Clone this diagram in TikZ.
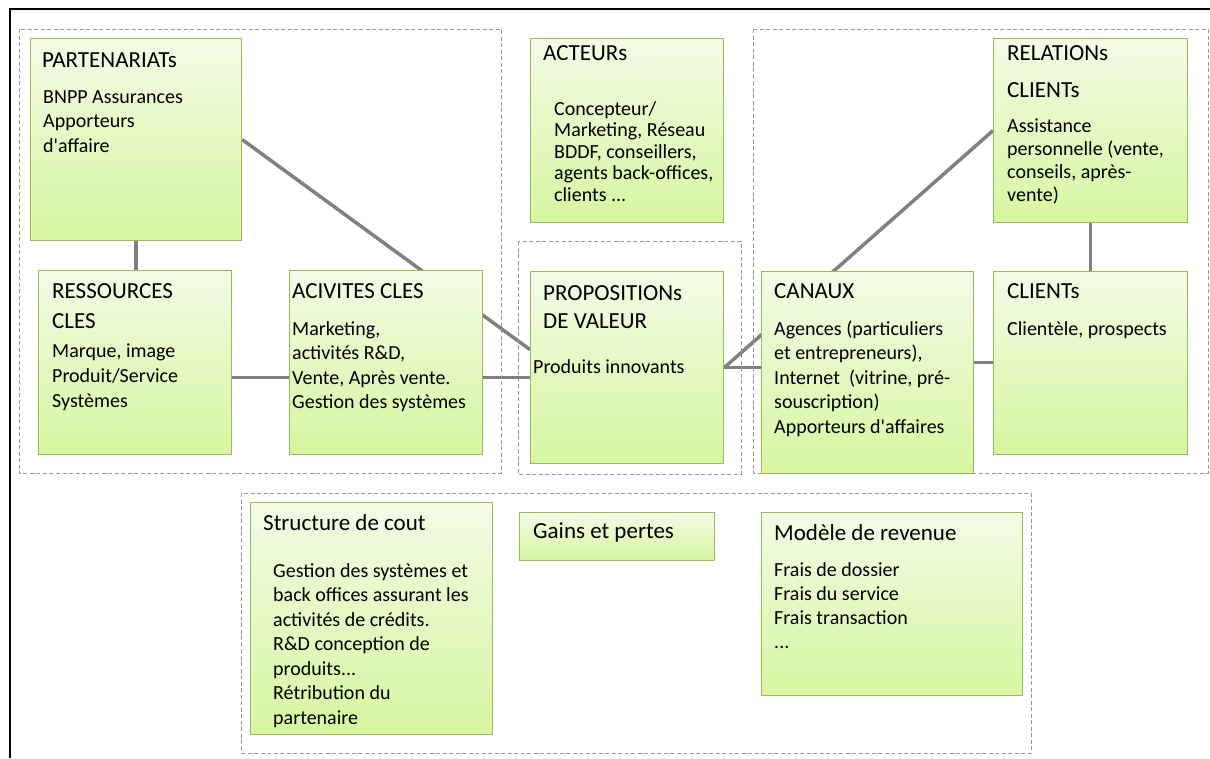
\documentclass[tikz,border=0pt]{standalone}
\usepackage{fontspec}
\setmainfont{Carlito}
\definecolor{cardline}{RGB}{155, 187, 89}
\definecolor{cardtop}{RGB}{243, 251, 230}
\definecolor{cardbot}{RGB}{214, 246, 160}
\definecolor{zonegray}{RGB}{150, 150, 150}
\definecolor{linkgray}{RGB}{128, 128, 128}
\usetikzlibrary{backgrounds, calc}
\newcommand\rows[1]{\begin{tabular}[t]{@{}l@{}}#1\end{tabular}}
\tikzset{
	card/.style={rectangle, draw=cardline, line width=1.2pt, top color=cardtop, bottom color=cardbot, anchor=north west, inner sep=0pt},
	head/.style={anchor=base west, inner sep=0pt, font=\fontsize{23}{30}\selectfont},
	body/.style={anchor=base west, inner sep=0pt, font=\fontsize{20}{24.5}\selectfont},
	zone/.style={draw=zonegray, line width=1pt, dash pattern=on 4pt off 2.5pt},
	link/.style={draw=linkgray, line width=3.5pt},
}

\begin{document}
\begin{tikzpicture}[x=1pt, y=-1pt]
		\useasboundingbox (0,0) rectangle (1210,758);
		\draw[line width=1.5pt] (10,758) -- (10,9) -- (1210,9);
		\draw[zone] (19,29) rectangle (501,473);
		\draw[zone] (518,241) rectangle (741,474);
		\draw[zone] (753,29) rectangle (1208,473);
		\draw[zone] (241,493) rectangle (1031,753);
		\node[card, minimum width=211pt, minimum height=202pt] (part) at (30,38) {};
		\node[card, minimum width=193pt, minimum height=184pt] (ress) at (38,270) {};
		\node[card, minimum width=193pt, minimum height=184pt] (acti) at (289,270) {};
		\node[card, minimum width=193pt, minimum height=184pt] (acte) at (530,38) {};
		\node[card, minimum width=193pt, minimum height=192pt] (prop) at (530,271) {};
		\node[card, minimum width=194pt, minimum height=184pt] (rel) at (993,38) {};
		\node[card, minimum width=212pt, minimum height=202pt] (canx) at (761,271) {};
		\node[card, minimum width=194pt, minimum height=183pt] (clie) at (993,271) {};
		\node[card, minimum width=242pt, minimum height=232pt] (cost) at (250,502) {};
		\node[card, minimum width=195pt, minimum height=48pt] (gain) at (519,512) {};
		\node[card, minimum width=261pt, minimum height=183pt] (rev) at (761,512) {};
		\node[head] (part-h) at (42,67) {PARTENARIATs};
		\node[body] (part-b) at (43,103) {\rows{BNPP Assurances\\Apporteurs\\d\textquotesingle affaire}};
		\node[head] (ress-h) at (52,298) {\rows{RESSOURCES\\CLES}};
		\node[body, font=\fontsize{20}{25}\selectfont] (ress-b) at (52,357) {\rows{Marque, image\\Produit/Service\\Systèmes}};
		\node[head] (acti-h) at (292,298) {ACIVITES CLES};
		\node[body] (acti-b) at (292,335) {\rows{Marketing,\\activités R\&D,\\Vente, Après vente.\\Gestion des systèmes}};
		\node[head] (acte-h) at (543,60) {ACTEURs};
		\node[body, font=\fontsize{20}{21.5}\selectfont] (acte-b) at (554,115) {\rows{Concepteur/\\Marketing, Réseau\\BDDF, conseillers,\\agents back-offices,\\clients ...}};
		\node[head, font=\fontsize{23}{37}\selectfont] (rel-h) at (1007,60) {\rows{RELATIONs\\CLIENTs}};
		\node[body, font=\fontsize{20}{23}\selectfont] (rel-b) at (1007,132) {\rows{Assistance\\personnelle (vente,\\conseils, après-\\vente)}};
		\node[head, font=\fontsize{23}{28}\selectfont] (prop-h) at (543,300) {\rows{PROPOSITIONs\\DE VALEUR}};
		\node[body] (prop-b) at (533,373) {Produits innovants};
		\node[head] (canx-h) at (774,298) {CANAUX};
		\node[body] (canx-b) at (774,335) {\rows{Agences (particuliers\\et entrepreneurs),\\Internet\ \ (vitrine, pré-\\souscription)\\Apporteurs d\textquotesingle affaires}};
		\node[head] (clie-h) at (1007,298) {CLIENTs};
		\node[body] (clie-b) at (1007,335) {Clientèle, prospects};
		\node[head] (cost-h) at (263,530) {Structure de cout};
		\node[body] (cost-b) at (273,577) {\rows{Gestion des systèmes et\\back offices assurant les\\activités de crédits.\\R\&D conception de\\produits...\\Rétribution du\\partenaire}};
		\node[head] (gain-h) at (533,538) {Gains et pertes};
		\node[head] (rev-h) at (774,540) {Modèle de revenue};
		\node[body, font=\fontsize{20}{24.3}\selectfont] (rev-b) at (774,576) {\rows{Frais de dossier\\Frais du service\\Frais transaction\\...}};
		\begin{scope}[on background layer]
			\draw[link] (part.east) -- ([yshift=18pt]prop.west);
			\draw[link] (part.south) -- (part.south |- ress.north);
			\draw[link] ([yshift=-15pt]ress.east) -- ([yshift=-15pt]ress.east -| prop.west);
			\draw[link] (prop.east) -- (prop.east -| canx.west);
			\draw[link] (prop.east) -- (rel.west);
			\draw[link] ([yshift=10pt]canx.east) -- ([yshift=10pt]canx.east -| clie.west);
			\draw[link] (rel.south) -- (rel.south |- clie.north);
		\end{scope}
	\end{tikzpicture}
\end{document}
